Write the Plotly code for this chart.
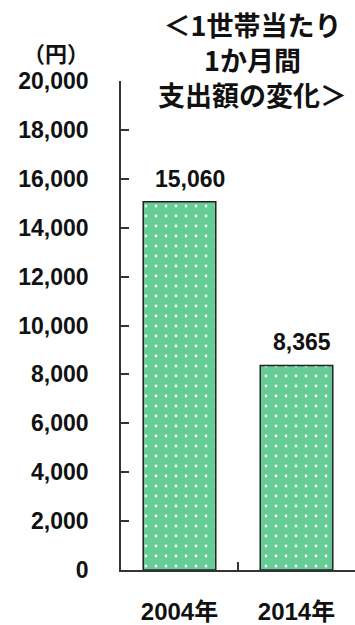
import plotly.graph_objects as go

# Monthly spending per household (yen)
years = ["2004年", "2014年"]
spending = [15060, 8365]
value_labels = ["15,060", "8,365"]
y_ticks = [0, 2000, 4000, 6000, 8000, 10000, 12000, 14000, 16000, 18000, 20000]
y_tick_text = ["0", "2,000", "4,000", "6,000", "8,000", "10,000", "12,000",
               "14,000", "16,000", "18,000", "20,000"]

num_font = "Liberation Sans, Arial, sans-serif"
jp_font = "Liberation Sans, Noto Sans CJK JP, sans-serif"
bar_green = "#66cc96"

fig = go.Figure()
fig.add_trace(go.Bar(
    x=years,
    y=spending,
    width=0.62,
    marker=dict(
        color=bar_green,
        line=dict(color="#222222", width=1.5),
        pattern=dict(shape=".", bgcolor=bar_green, fgcolor="#ffffff",
                     size=10, solidity=0.06, fillmode="replace"),
    ),
    hoverinfo="skip",
))

# Value labels above the bars
for yr, val, lab, dx in zip(years, spending, value_labels, [10, 5]):
    fig.add_annotation(x=yr, y=val, text=lab, showarrow=False,
                       yanchor="bottom", yshift=8, xshift=dx,
                       font=dict(family=num_font, size=23, color="#111111",
                                 weight="bold"))

# Chart heading and unit (pixel positions, converted to paper coords below)
fig.add_annotation(x=252, y=59, xref="paper", yref="paper",
                   text="＜1世帯当たり<br>1か月間<br>支出額の変化＞",
                   showarrow=False, align="center",
                   xanchor="center", yanchor="middle",
                   font=dict(family="Noto Sans CJK JP", size=27,
                             color="#111111", weight="bold"))
fig.add_annotation(x=56, y=51, xref="paper", yref="paper", text="（円）",
                   showarrow=False, xanchor="center", yanchor="middle",
                   font=dict(family="Noto Sans CJK JP", size=22,
                             color="#111111", weight="bold"))

W, H = 355, 625
L, R, T, B = 121, 0, 81, 46
for ann in fig.layout.annotations:
    if ann.xref == "paper":
        ann.x = (ann.x - L) / (W - L - R)
        ann.y = 1 - (ann.y - T) / (H - T - B)

fig.update_layout(
    width=W, height=H,
    margin=dict(l=L, r=R, t=T, b=B, pad=0),
    plot_bgcolor="white", paper_bgcolor="white",
    showlegend=False,
    xaxis=dict(
        type="category", range=[-0.5, 1.5],
        showline=True, linecolor="#333333", linewidth=1.5,
        ticks="inside", tickson="boundaries", ticklen=8,
        tickcolor="#333333", tickwidth=1.5,
        showgrid=False, zeroline=False,
        tickfont=dict(family=jp_font, size=24, color="#111111",
                      weight="bold"),
        ticklabelstandoff=19,
    ),
    yaxis=dict(
        range=[0, 20000], tickvals=y_ticks, ticktext=y_tick_text,
        showline=True, linecolor="#333333", linewidth=1.5,
        ticks="inside", ticklen=8, tickcolor="#333333", tickwidth=1.5,
        showgrid=False, zeroline=False,
        tickfont=dict(family=num_font, size=23, color="#111111",
                      weight="bold"),
        ticklabelstandoff=26,
    ),
)

fig.write_html("out.html")
